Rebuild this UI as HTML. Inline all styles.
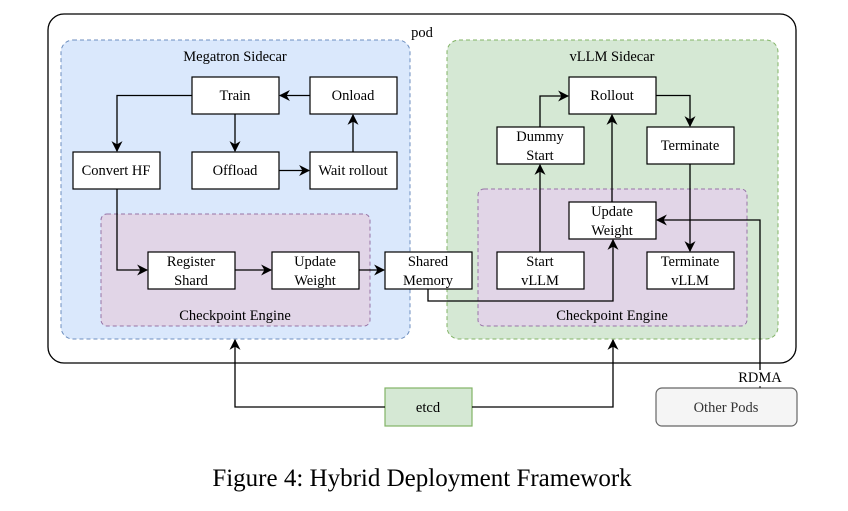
<!DOCTYPE html>
<html><head><meta charset="utf-8"><style>
body{margin:0;background:#fff;width:848px;height:506px;overflow:hidden}
svg text{font-family:"Liberation Serif",serif;font-size:14.5px;fill:#000}
</style></head><body>
<svg width="848" height="506" viewBox="0 0 848 506" xmlns="http://www.w3.org/2000/svg">
<defs><marker id="a" viewBox="0 0 10 10" refX="9" refY="5" markerWidth="11" markerHeight="11" orient="auto" markerUnits="userSpaceOnUse"><path d="M0,0 L10,5 L0,10 L3,5 z" fill="#000"/></marker></defs>
<rect x="48" y="14" width="748" height="349" rx="16" fill="#fff" stroke="#000" stroke-width="1.3"/>
<text x="422" y="37" text-anchor="middle">pod</text>
<rect x="61" y="40" width="349" height="299" rx="12" fill="#dae8fc" stroke="#6c8ebf" stroke-dasharray="4 3"/>
<text x="235" y="61" text-anchor="middle">Megatron Sidecar</text>
<rect x="447" y="40" width="331" height="299" rx="12" fill="#d5e8d4" stroke="#82b366" stroke-dasharray="4 3"/>
<text x="612" y="61" text-anchor="middle">vLLM Sidecar</text>
<rect x="101" y="214" width="269" height="112" rx="6" fill="#e1d5e7" stroke="#9673a6" stroke-dasharray="4 3"/>
<text x="235" y="320" text-anchor="middle">Checkpoint Engine</text>
<rect x="478" y="189" width="269" height="137" rx="6" fill="#e1d5e7" stroke="#9673a6" stroke-dasharray="4 3"/>
<text x="612" y="320" text-anchor="middle">Checkpoint Engine</text>
<g fill="#fff" stroke="#000" stroke-width="1.2">
<rect x="192" y="77" width="87" height="37"/><rect x="310" y="77" width="87" height="37"/>
<rect x="73" y="152" width="87" height="37"/><rect x="192" y="152" width="87" height="37"/><rect x="310" y="152" width="87" height="37"/>
<rect x="148" y="252" width="87" height="37"/><rect x="272" y="252" width="87" height="37"/><rect x="385" y="252" width="87" height="37"/>
<rect x="569" y="77" width="87" height="37"/><rect x="497" y="127" width="87" height="37"/><rect x="647" y="127" width="87" height="37"/>
<rect x="569" y="202" width="87" height="37"/><rect x="497" y="252" width="87" height="37"/><rect x="647" y="252" width="87" height="37"/>
</g>
<rect x="385" y="388" width="87" height="38" fill="#d5e8d4" stroke="#82b366" stroke-width="1.2"/>
<rect x="656" y="388" width="141" height="38" rx="6" fill="#f5f5f5" stroke="#666" stroke-width="1.2"/>
<g text-anchor="middle">
<text x="235" y="100">Train</text><text x="353" y="100">Onload</text>
<text x="116" y="175">Convert HF</text><text x="235" y="175">Offload</text><text x="353" y="175">Wait rollout</text>
<text x="191" y="266">Register</text><text x="191" y="285">Shard</text>
<text x="315" y="266">Update</text><text x="315" y="285">Weight</text>
<text x="428" y="266">Shared</text><text x="428" y="285">Memory</text>
<text x="612" y="100">Rollout</text>
<text x="540" y="141">Dummy</text><text x="540" y="160">Start</text>
<text x="690" y="150">Terminate</text>
<text x="612" y="216">Update</text><text x="612" y="235">Weight</text>
<text x="540" y="266">Start</text><text x="540" y="285">vLLM</text>
<text x="690" y="266">Terminate</text><text x="690" y="285">vLLM</text>
<text x="428" y="412">etcd</text>
<text x="726" y="412" style="fill:#333">Other Pods</text>
<text x="760" y="382">RDMA</text>
</g>
<g fill="none" stroke="#000" stroke-width="1.3" marker-end="url(#a)">
<path d="M310 95.5H280"/><path d="M235 114V151"/><path d="M192 95.5H117V151"/>
<path d="M279 170.5H309"/><path d="M353 152V115"/>
<path d="M117 189V270H147"/><path d="M235 270H271"/><path d="M359 270H384"/>
<path d="M428 289V301H613V240"/>
<path d="M540 127V96H568"/><path d="M656 95.5H690V126"/><path d="M612 202V115"/>
<path d="M540 252V165"/><path d="M690 164V251"/>
<path d="M760 370V220H657"/>
<path d="M385 407H235V340"/><path d="M472 407H613V340"/>
</g>
<line x1="760" y1="386" x2="760" y2="388" stroke="#000"/>
<text x="422" y="486" text-anchor="middle" style="font-size:25px">Figure 4: Hybrid Deployment Framework</text>
</svg>
</body></html>
